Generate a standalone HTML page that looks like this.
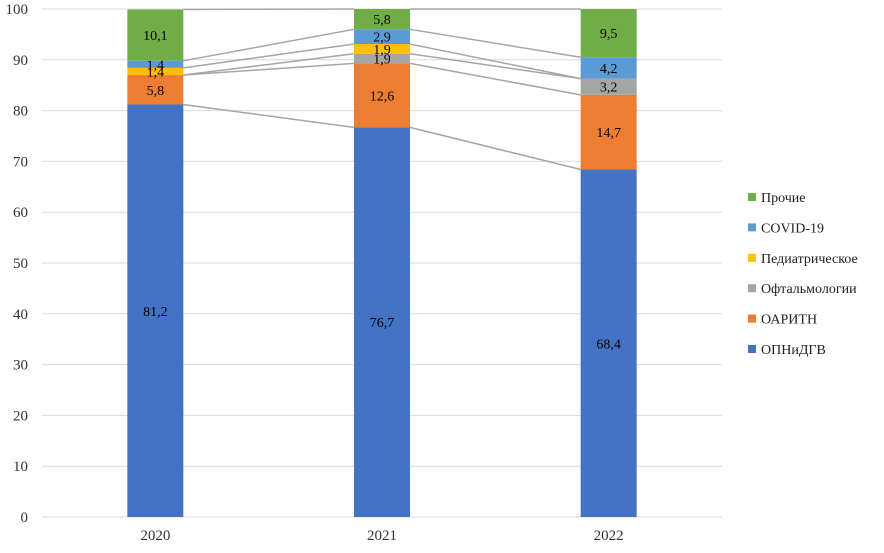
<!DOCTYPE html>
<html><head><meta charset="utf-8"><style>
body{margin:0;background:#fff}
svg text{font-family:"Liberation Serif",serif;}
</style></head><body>
<svg id="chart" width="884" height="548"></svg>
<script>
const categories=["2020","2021","2022"];
const seriesNames=["ОПНиДГВ","ОАРИТН","Офтальмологии","Педиатрическое","COVID-19","Прочие"];
const colors=["#4472c4","#ed7d31","#a5a5a5","#ffc000","#5b9bd5","#70ad47"];
const s0=[81.2,76.7,68.4];
const s1=[5.8,12.6,14.7];
const s2=[0,1.9,3.2];
const s3=[1.4,1.9,0];
const s4=[1.4,2.9,4.2];
const s5=[10.1,5.8,9.5];
const seriesValues=[s0,s1,s2,s3,s4,s5];
const yTicks=[0,10,20,30,40,50,60,70,80,90,100];

const NS="http://www.w3.org/2000/svg";
const svg=document.getElementById('chart');
const L=42,R=722,T=9,B=517,yMax=100;
const bw=56;
const y=v=>B-(Math.min(v,yMax)/yMax)*(B-T);
const xc=i=>L+(R-L)/categories.length*(i+0.5);
function mk(tag,attrs,parent){const e=document.createElementNS(NS,tag);for(const k in attrs)e.setAttribute(k,attrs[k]);(parent||svg).appendChild(e);return e;}

yTicks.forEach(t=>{
  const g=mk('line',{x1:L,x2:R,y1:y(t),y2:y(t),stroke:'#d9d9d9','stroke-width':1});
  
  
  const tx=mk('text',{x:28,y:y(t)+5,'text-anchor':'end','font-size':15,fill:'#333'});
  tx.textContent=t;
  
  
});

// cumulative
const cum=categories.map((c,i)=>{let a=[0];seriesValues.forEach(s=>a.push(a[a.length-1]+s[i]));return a;});

// series lines
for(let k=1;k<=seriesValues.length;k++){
  for(let i=0;i<categories.length-1;i++){
    const ln=mk('line',{x1:xc(i)+bw/2,y1:y(cum[i][k]),x2:xc(i+1)-bw/2,y2:y(cum[i+1][k]),stroke:'#a5a5a5','stroke-width':1.5});
    
    
  }
}

categories.forEach((c,i)=>{
  seriesValues.forEach((s,k)=>{
    if(s[i]<=0)return;
    const y0=y(cum[i][k]),y1=y(cum[i][k+1]);
    const r=mk('rect',{x:xc(i)-bw/2,y:y1,width:bw,height:y0-y1,fill:colors[k]});
    
    
    const lt=mk('text',{x:xc(i),y:(y0+y1)/2+5,'text-anchor':'middle','font-size':14,fill:'#000'});
    lt.textContent=String(s[i]).replace('.',',');
    
    
  });
  const xt=mk('text',{x:xc(i),y:540,'text-anchor':'middle','font-size':15,fill:'#333'});
  xt.textContent=c;
  
  
});

// legend (reverse order)
for(let k=seriesNames.length-1,j=0;k>=0;k--,j++){
  const ly=197+j*30.4;
  const sq=mk('rect',{x:748,y:ly-4,width:8,height:8,fill:colors[k]});
  
  
  const lt=mk('text',{x:761,y:ly+5,'font-size':14,fill:'#222'});
  lt.textContent=(k===4?' ':'')+seriesNames[k];
  
  
}
</script>
</body></html>
